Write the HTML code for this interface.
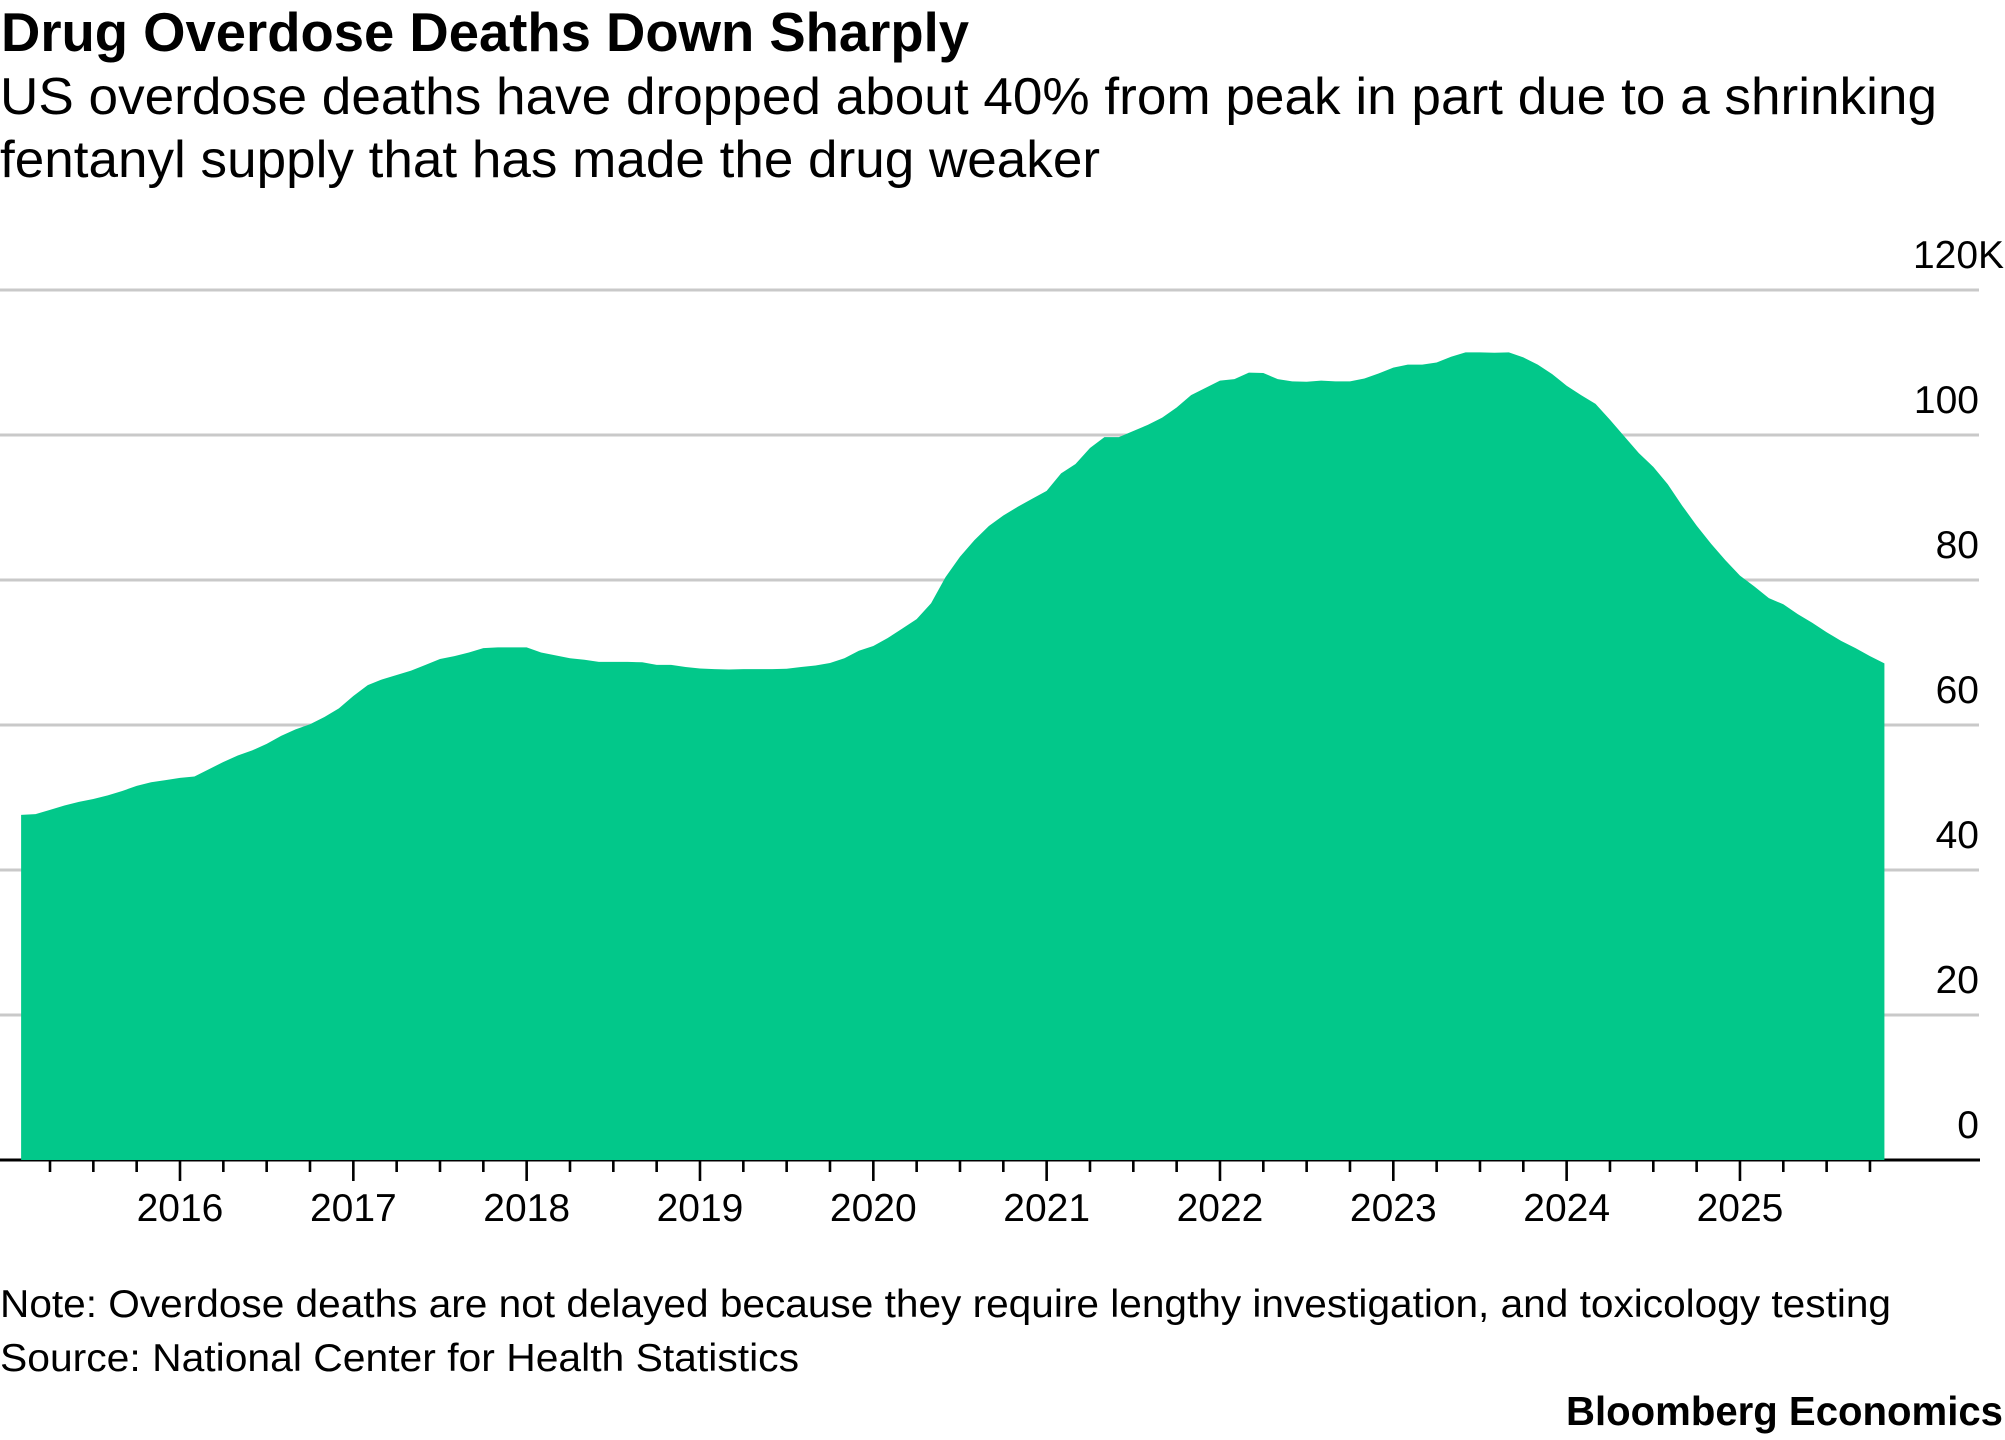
<!DOCTYPE html>
<html lang="en">
<head>
<meta charset="utf-8">
<title>Drug Overdose Deaths Down Sharply</title>
<style>
  html, body { margin: 0; padding: 0; background: #fff; }
  body { width: 2005px; height: 1440px; overflow: hidden; }
  svg { display: block; font-family: "Liberation Sans", Arial, sans-serif; fill: #000; }
</style>
</head>
<body>
<svg id="chart" xmlns="http://www.w3.org/2000/svg" width="2005" height="1440" viewBox="0 0 2005 1440">
  <text x="1" y="51" font-size="55" font-weight="700" textLength="968" lengthAdjust="spacingAndGlyphs">Drug Overdose Deaths Down Sharply</text>
  <text x="0" y="114" font-size="52" textLength="1937" lengthAdjust="spacingAndGlyphs">US overdose deaths have dropped about 40% from peak in part due to a shrinking</text>
  <text x="0" y="177" font-size="52" textLength="1100" lengthAdjust="spacingAndGlyphs">fentanyl supply that has made the drug weaker</text>
  <g id="grid"></g>
  <g id="axis"></g>
  <g id="series"></g>
  <g id="ylabels"></g>
  <g id="xlabels"></g>
  <text x="0" y="1317" font-size="39" textLength="1891" lengthAdjust="spacingAndGlyphs">Note: Overdose deaths are not delayed because they require lengthy investigation, and toxicology testing</text>
  <text x="0" y="1371" font-size="39" textLength="799" lengthAdjust="spacingAndGlyphs">Source: National Center for Health Statistics</text>
  <text x="1566" y="1425" font-size="41" font-weight="700" textLength="437" lengthAdjust="spacingAndGlyphs">Bloomberg Economics</text>
</svg>
<script>
// Chart data (thousands of deaths, 12-month count, monthly from Feb 2015)
const startYear = 2015;
const startMonth = 1; // zero-based: February
const deaths = [
  47.6,47.7,48.3,48.9,49.4,49.8,50.3,50.9,51.6,52.1,52.4,52.7,
  52.9,53.9,54.9,55.8,56.5,57.4,58.5,59.4,60.1,61.1,62.3,64.0,
  65.5,66.3,66.9,67.5,68.3,69.1,69.5,70.0,70.6,70.7,70.7,70.7,
  70.0,69.6,69.2,69.0,68.7,68.7,68.7,68.65,68.3,68.3,68.0,67.8,
  67.7,67.66,67.7,67.7,67.7,67.75,68.0,68.2,68.55,69.2,70.25,70.9,
  72.0,73.3,74.6,76.8,80.4,83.2,85.5,87.45,88.9,90.1,91.2,92.3,
  94.7,96.0,98.2,99.7,99.7,100.55,101.4,102.4,103.8,105.5,106.5,107.5,
  107.7,108.6,108.55,107.7,107.4,107.35,107.5,107.4,107.4,107.8,108.5,109.3,
  109.7,109.7,110.0,110.8,111.4,111.4,111.35,111.4,110.7,109.7,108.4,106.8,
  105.5,104.3,102.1,99.8,97.5,95.6,93.2,90.25,87.5,85.0,82.7,80.6,
  79.1,77.5,76.65,75.3,74.1,72.8,71.6,70.6,69.5,68.5
];
const yTickValues = [0, 20, 40, 60, 80, 100, 120];
const yTickLabels = ["0", "20", "40", "60", "80", "100", "120K"];
const xYears = [2016, 2017, 2018, 2019, 2020, 2021, 2022, 2023, 2024, 2025];
const firstTickYear = 2015;
const lastTickYear = 2025;

const SVG_NS = "http://www.w3.org/2000/svg";
const yZeroPx = 1160, pxPerUnit = 7.25;
const x2016Px = 180, pxPerYear = 173.33;
const xScale = function (t) { return x2016Px + (t - 2016) * pxPerYear; };
const yScale = function (v) { return yZeroPx - v * pxPerUnit; };
const make = function (tag) { return document.createElementNS(SVG_NS, tag); };

// Gridlines
const gridGroup = document.getElementById("grid");
yTickValues.forEach(function (v) {
  if (v === 0) return;
  const line = make("line");
  
  
  line.setAttribute("x1", 0);
  line.setAttribute("x2", 1979);
  line.setAttribute("y1", yScale(v));
  line.setAttribute("y2", yScale(v));
  line.setAttribute("stroke", "#c9c9c9");
  line.setAttribute("stroke-width", 3);
  gridGroup.appendChild(line);
});

// Axis line and quarterly / yearly ticks
const axisGroup = document.getElementById("axis");
const baseline = make("line");


baseline.setAttribute("x1", 0);
baseline.setAttribute("x2", 1980);
baseline.setAttribute("y1", yScale(0));
baseline.setAttribute("y2", yScale(0));
baseline.setAttribute("stroke", "#000");
baseline.setAttribute("stroke-width", 3);
axisGroup.appendChild(baseline);
for (let year = firstTickYear; year <= lastTickYear; year++) {
  for (let q = 0; q < 4; q++) {
    if (year === firstTickYear && q === 0) continue;
    const tick = make("line");
    
    
    const tx = xScale(year + q / 4);
    tick.setAttribute("x1", tx);
    tick.setAttribute("x2", tx);
    tick.setAttribute("y1", yScale(0));
    tick.setAttribute("y2", yScale(0) + (q === 0 ? 21 : 12));
    tick.setAttribute("stroke", "#000");
    tick.setAttribute("stroke-width", 2.6);
    axisGroup.appendChild(tick);
  }
}

// Area series
const xOf = function (i) { return xScale(startYear + (startMonth + i) / 12); };
let areaPath = "M" + xOf(0).toFixed(2) + " " + yScale(0);
deaths.forEach(function (v, i) {
  areaPath += "L" + xOf(i).toFixed(2) + " " + yScale(v).toFixed(2);
});
areaPath += "L" + xOf(deaths.length - 1).toFixed(2) + " " + yScale(0) + "Z";
const area = make("path");


area.setAttribute("d", areaPath);
area.setAttribute("fill", "#02c88a");
document.getElementById("series").appendChild(area);

// Y labels
const yLabelGroup = document.getElementById("ylabels");
yTickValues.forEach(function (v, i) {
  const label = make("text");
  
  
  label.setAttribute("y", yScale(v) - 22);
  label.setAttribute("font-size", 39);
  label.textContent = yTickLabels[i];
  if (yTickLabels[i].length > 3) {
    label.setAttribute("x", 1913);
    label.setAttribute("textLength", 91);
    label.setAttribute("lengthAdjust", "spacingAndGlyphs");
  } else {
    label.setAttribute("x", 1979);
    label.setAttribute("text-anchor", "end");
  }
  yLabelGroup.appendChild(label);
});

// X labels
const xLabelGroup = document.getElementById("xlabels");
xYears.forEach(function (year) {
  const label = make("text");
  
  
  label.setAttribute("x", xScale(year));
  label.setAttribute("y", 1221);
  label.setAttribute("font-size", 39);
  label.setAttribute("text-anchor", "middle");
  label.textContent = String(year);
  xLabelGroup.appendChild(label);
});
</script>
</body>
</html>
